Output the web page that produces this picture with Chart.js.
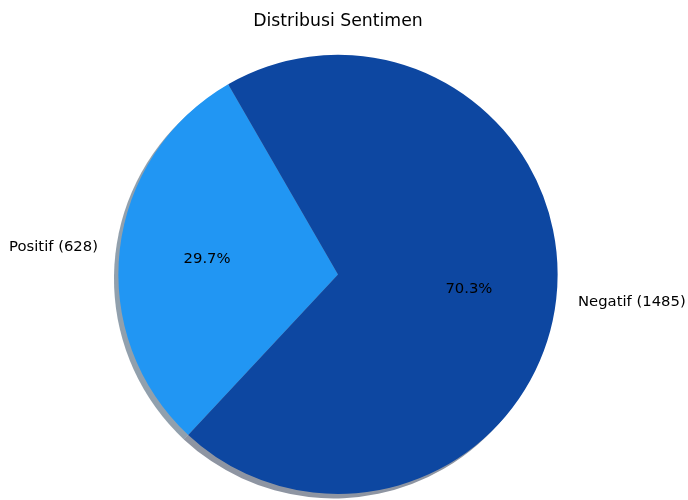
<!DOCTYPE html>
<html>
<head>
<meta charset="utf-8">
<script src="https://cdn.jsdelivr.net/npm/chart.js@4/dist/chart.umd.min.js"></script>
<style>
  html, body { margin: 0; padding: 0; background: #ffffff; }
  #wrap { width: 688px; height: 500px; }
</style>
</head>
<body>
<div id="wrap"><canvas id="pieChart" width="688" height="500"></canvas></div>
<script>
// Données du graphique
const categories = ['Positif', 'Negatif'];
const counts = [628, 1485];
const sliceColors = ['#2196F3', '#0D47A1'];
const chartTitle = 'Distribusi Sentimen';

const total = counts.reduce((a, b) => a + b, 0);

// Ombre décalée (gauche / bas), comme matplotlib shadow=True
const shadowPlugin = {
    id: 'pieShadow',
    beforeDatasetsDraw(chart) {
        const c = chart.ctx;
        const meta = chart.getDatasetMeta(0);
        meta.data.forEach((arc, i) => {
            const p = arc.getProps(['x', 'y', 'startAngle', 'endAngle', 'outerRadius'], true);
            const off = p.outerRadius * 0.02;
            const hex = sliceColors[i].replace('#', '');
            const r = Math.round(parseInt(hex.substr(0, 2), 16) * 0.3);
            const g = Math.round(parseInt(hex.substr(2, 2), 16) * 0.3);
            const b = Math.round(parseInt(hex.substr(4, 2), 16) * 0.3);
            c.save();
            c.fillStyle = `rgba(${r},${g},${b},0.45)`;
            c.beginPath();
            c.moveTo(p.x - off, p.y + off);
            c.arc(p.x - off, p.y + off, p.outerRadius, p.startAngle, p.endAngle);
            c.closePath();
            c.fill();
            c.restore();
        });
    }
};

// Étiquettes extérieures et pourcentages
const labelPlugin = {
    id: 'pieLabels',
    afterDatasetsDraw(chart) {
        const c = chart.ctx;
        const meta = chart.getDatasetMeta(0);
        meta.data.forEach((arc, i) => {
            const p = arc.getProps(['x', 'y', 'startAngle', 'endAngle', 'outerRadius'], true);
            const mid = (p.startAngle + p.endAngle) / 2;
            const cos = Math.cos(mid), sin = Math.sin(mid);
            c.save();
            c.font = '14.8px "DejaVu Sans", sans-serif';
            c.fillStyle = '#000000';
            c.textBaseline = 'middle';
            // pourcentage
            c.textAlign = 'center';
            const pct = (counts[i] / total * 100).toFixed(1) + '%';
            c.fillText(pct, p.x + cos * p.outerRadius * 0.6, p.y + sin * p.outerRadius * 0.6);
            // libellé
            c.textAlign = cos < 0 ? 'right' : 'left';
            c.fillText(`${categories[i]} (${counts[i]})`, p.x + cos * p.outerRadius * 1.1, p.y + sin * p.outerRadius * 1.1);
            c.restore();
        });
    }
};

const ctx = document.getElementById('pieChart').getContext('2d');
const pieChart = new Chart(ctx, {
    type: 'pie',
    data: {
        labels: categories,
        datasets: [{
            data: counts,
            backgroundColor: sliceColors,
            borderWidth: 0
        }]
    },
    options: {
        responsive: false,
        animation: false,
        rotation: -137,
        layout: {
            padding: { top: 0, bottom: 6, left: 0, right: 12 }
        },
        plugins: {
            legend: { display: false },
            tooltip: { enabled: false },
            title: {
                display: true,
                text: chartTitle,
                color: '#000000',
                font: { family: '"DejaVu Sans", sans-serif', size: 17.3, weight: 'normal', lineHeight: 1.2 },
                padding: { top: 11, bottom: 23 }
            }
        }
    },
    plugins: [shadowPlugin, labelPlugin]
});
</script>
</body>
</html>
